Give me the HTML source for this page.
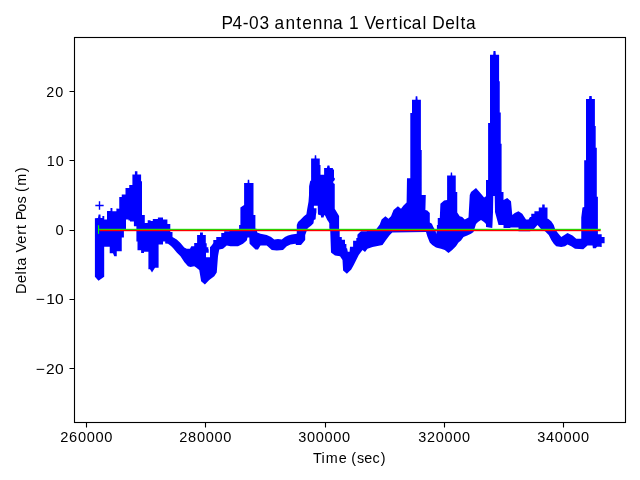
<!DOCTYPE html>
<html><head><meta charset="utf-8"><title>P4-03 antenna 1 Vertical Delta</title>
<style>html,body{margin:0;padding:0;background:#fff;}svg{display:block;will-change:transform;}text{font-family:"Liberation Sans",sans-serif;}</style>
</head><body>
<svg width="640" height="480" viewBox="0 0 640 480">
<rect width="640" height="480" fill="#fff"/>
<polygon points="94.9,218.3 98,218 98.6,214.4 100.5,214.4 100.6,218 102.4,218 102.4,216 104.25,216 104.25,219.4 107,219.4 107,211 110.5,211 110.5,208.1 112.4,208.1 112.4,211.25 116.4,211.25 116.4,208.5 119.25,208.75 119.25,196.9 121.75,196.9 121.75,194.4 125.5,194.4 125.5,188.1 129.25,188.1 129.25,185 132.4,185 132.4,174.4 134.9,174.4 134.9,171.25 137.4,171.25 137.4,174.4 141.1,174.4 141.1,181.25 142,181.25 142,215 144.8,215 144.8,223 147.7,223 147.7,220.3 150.6,220.3 150.6,221 152.8,221 152.8,219 157.9,219 157.9,217.4 163,217.4 163,219.6 167.4,219.6 167.4,224 170.3,224 170.3,232 172.5,232 172.5,237 176.75,239.4 180.5,243.1 184.25,247.5 186.75,248.75 190,248.75 191.25,246.25 194.2,246.25 194.2,242.9 197.1,242.9 197.1,235 200,235 200,232.5 202.9,232.5 202.9,235 205.8,235 205.8,243.3 206.7,243.3 206.7,247.3 208.3,247.3 208.3,249.3 208.7,249.3 208.7,252.7 206,252.7 206,257.3 210,257.3 210,247.3 212,245 213.3,242.9 213.3,240 216.25,240 216.25,237.1 221.25,237.1 221.25,232.9 224.2,232.9 224.2,231.25 229.2,231.25 230.5,230.6 238,230.6 239.1,228.75 239.1,225 240.4,225 240.4,207.5 244.1,205 244.1,183.1 247.6,183.1 247.8,179.8 249.2,179.8 249.4,183.1 253.5,183.1 253.5,215 255.4,215 255.4,228.75 256.6,228.75 257.25,232.5 260.5,233.75 266.75,235 271.1,236.9 274.25,239.4 278,239 281.75,239.4 284.9,236.9 288,235.6 291.75,234.4 296.75,233.75 296.8,225 298,222 301,219.2 303.9,216.25 306.4,214.2 307.25,208.75 308.5,201.7 309,195 309.1,186.25 310.2,181 310.2,180.75 311.1,180.75 311.1,158.6 314.6,158.6 314.8,155.25 316.2,155.25 316.4,158.6 319.75,158.6 319.75,165 320.5,165 320.5,174.75 324.1,174.75 324.1,168 326.9,168 327.5,165.4 329.4,165.4 329.9,168 332.9,168 332.9,169.5 334,169.5 334,177.75 334.75,178 334.75,180 333.3,181.5 333.3,183 334.75,184 334.75,208.75 339.1,216 339.1,229 339.7,229 339.7,236.9 341.8,236.9 341.8,239.7 345,239.7 345,244 346.4,244 346.4,248.2 347.1,248.2 347.8,251.8 349.6,251.8 350,246.8 353.1,246.8 353.1,240.8 356.3,240.8 356.3,238 357.4,238 357.4,234.8 358.8,233.3 361,231.2 366,231.25 371,230.6 376,229.4 379.75,224.4 381.6,219.4 385.4,216.25 388.5,218.75 391,216.25 393.5,210 397.9,206.25 401,208.75 403.5,205.6 406.6,202.5 407,178.3 410.3,178.3 410.3,113 412,113 412,99.8 415.5,99.8 415.7,96.3 417.3,96.3 417.6,99.8 420.9,99.8 420.9,150 421.7,150 421.7,195 425.8,195 425.4,210 427.3,210.4 429.8,212.9 429.8,222.5 431.9,223.75 433.2,226.7 434.4,228.75 435.5,230.5 436.3,234 436.9,229.2 436.9,225 437.75,225 437.75,217.9 439.8,217.9 440.4,203.75 444.1,200.6 447.1,200 447.1,175.6 450.6,175.6 450.8,172.4 452.1,172.4 452.3,175.6 455.75,175.6 455.75,191.9 456.9,191.9 457.25,191.9 457.25,212.5 459.75,216.25 462.25,216.9 464.75,219.4 468.5,217.5 469.75,195 471,191.9 476,188.1 481,193.75 484.1,197.5 486,196.25 486,180 488.1,180 488.1,123.1 490,123.1 490,54.75 493.2,54.75 493.5,51 495.5,51 495.8,54.75 499.1,54.75 499.1,81.25 499.75,81.25 499.75,112.5 500.75,112.5 500.75,143.75 501.6,143.75 501.6,191.9 503.5,191.9 503.5,200 507.25,198.1 511,201.25 512.25,215 514.75,213.1 518.5,211.25 522.25,213.75 526,219.4 528.5,219.4 530,216.9 531.25,216.9 531.25,213.75 534.4,213.75 534.4,211.25 538.75,211.25 538.75,207.5 542.2,207.5 542.2,204.4 544.7,204.4 544.7,207.5 547.5,207.5 547.5,218.75 548.1,218.75 551.25,221.25 553.75,225 555,228.75 557.5,232.5 561.25,236.9 567.5,233.1 572.5,235.6 576.25,238.75 581.25,238.75 581.25,217.5 582.5,207.5 584.2,207 584.2,160.2 586,160.2 586,99.1 589.1,99.1 589.3,95.9 591.7,95.9 591.9,99.1 594.9,99.1 594.9,126 595.7,126 595.7,147.8 596.8,147.8 596.8,196.7 597.9,196.7 597.9,234.2 601.7,234.2 601.7,237.1 604.6,237.1 604.6,242.5 604.6,243.3 601.7,243.3 601.7,247 600.4,247 600.4,246.7 597,246.7 595.8,248.3 592.9,248.3 592.5,245.4 587.5,245.4 583.3,249.2 575,248.75 571.25,246.25 567.5,244.4 565,246.25 561.25,246.9 556.25,246.25 553.75,243.75 551.25,240 548.75,235 545,231.25 541,229 537.5,225 534,229 530,231.25 518.5,231.25 518.5,227.5 511,227.5 509.75,228.1 503.5,228.1 503.5,225 498.5,225 495,212 494.7,196 493.3,196 493,212 492.5,224 492.25,228 486,227 486,224 484,222 481,220 478,222 476,224 473.5,231.9 471,233.75 467.25,235.6 463.5,236.9 461,240.6 458.5,242.5 456,246.25 452.25,250 448.5,253.1 444.75,250 441,248.75 436,247.5 432.25,245 429.75,242.5 427.25,236.25 426,232 392.25,232.5 389.75,235 386,240 382.5,245 380,245.6 372.5,246.9 367.5,248.75 365,251.9 362.5,250 358.75,255 356.25,260 353.75,265 351.25,269.4 346.9,273.75 343.1,270.6 342.5,260 340,256.25 335,255.6 331,252.5 330.2,230 329.3,228.3 329.3,223.3 328.5,221.7 327.25,220 325.2,215.8 324.3,215 323.5,217.5 321,217.5 321,215.5 318,214.6 317.7,205.8 313.9,205.8 313.9,208.3 316.5,208.3 316.4,212.5 316,214.2 315.6,219.2 313.9,220 313.5,223.3 311,225.8 307.7,228.3 305.2,235 305.2,240 301,245 296,245 295.5,243.75 290.5,244.4 286.75,246.25 283,250 276.75,250.6 271.75,250 266.75,245.6 260.5,245.6 258,249.4 255.5,249.4 249.6,243.75 249.3,237.5 247.5,237.5 246.75,240.6 243,243.75 238,246.25 230.5,246.25 226.75,245.6 223,248.75 219.25,249.4 218,256.25 216.75,272.5 214.25,276.25 209.25,280 204.9,284.4 201.1,281.25 199.25,270 196.1,267.5 194.25,266.25 190.5,266.9 188,266.25 184.25,261.9 180.5,256.25 176.75,252.5 173,248.1 171,246 168,243.75 165.2,243.6 165.2,241.5 163,241.5 163,244.4 158.6,244.4 158.6,267.7 155,267.7 152,272.4 150,269.2 148.4,269.2 148.4,251.7 144,251.7 144,253.1 141.1,253.1 141.1,250.2 137.5,250.2 137.5,241.5 136.4,241.5 136.4,226.25 133.9,226.25 133.9,221.6 130,221.6 130,220.6 128.5,220.6 128.5,219.4 126,219.4 126,230 123.9,230 123.9,237.5 121.75,237.5 121.75,251.25 116.75,251.25 116.75,256.25 114.25,256.25 113,253.3 109.7,253.3 109.7,246.7 104.2,246.7 104.2,276.7 98.5,280.8 94.9,276.7" fill="#0000ff"/>
<path d="M95.33 205.5H103.67M99.5 201.33V209.67" stroke="#0000ff" stroke-width="1.39" fill="none"/>
<rect x="98.5" y="228.8" width="502.3" height="1.39" fill="#00ff00"/>
<rect x="97.95" y="225.2" width="1.15" height="8.6" fill="#00ff00"/>
<rect x="99.8" y="229.8" width="500.8" height="1.39" fill="#ff0000"/>
<rect x="74.5" y="37.5" width="551" height="385" fill="none" stroke="#000" stroke-width="1.11"/>
<path d="M86.5 422V427.5 M205.5 422V427.5 M325.5 422V427.5 M444.5 422V427.5 M563.5 422V427.5 M75 91.5H69.5 M75 160.5H69.5 M75 230.5H69.5 M75 299.5H69.5 M75 368.5H69.5" stroke="#000" stroke-width="1.11" fill="none"/>
<g font-family="Liberation Sans, sans-serif" fill="#000"><text transform="translate(222.0,0) scale(0.9883,1)" x="-0.47 10.74 21.00 27.31 37.96 38.96 53.17 64.26 75.20 81.30 91.83 102.46 112.24 113.24 128.53 129.53 144.12 154.79 165.69 172.59 178.75 183.08 191.92 202.90 203.90 212.69 225.87 236.29 241.40 246.82" y="29.0" font-size="17.50">P4-03 antenna 1 Vertical Delta</text><text transform="translate(313.0,0) scale(0.9909,1)" x="-0.14 8.54 12.93 26.04 27.04 38.68 44.40 51.77 60.11 68.42" y="463.0" font-size="14.50">Time (sec)</text><text transform="translate(26.0,294.0) rotate(-90) scale(0.9984,1)" x="0.14 11.04 19.60 23.84 28.38 29.38 41.61 50.35 59.31 65.03 66.03 73.83 82.35 90.74 91.74 102.09 108.44 121.85" y="0" font-size="14.50">Delta Vert Pos (m)</text><text transform="translate(60.0,0) scale(1.0027,1)" x="0.16 9.07 17.92 26.65 35.37 44.10" y="442.0" font-size="14.60">260000</text><text transform="translate(179.0,0) scale(0.9988,1)" x="0.18 9.12 18.01 26.77 35.53 44.29" y="442.0" font-size="14.60">280000</text><text transform="translate(297.9375,0) scale(0.9962,1)" x="0.39 9.15 17.94 26.72 35.50 44.29" y="442.0" font-size="14.60">300000</text><text transform="translate(417.9375,0) scale(0.9904,1)" x="0.42 9.05 18.07 26.90 35.74 44.57" y="442.0" font-size="14.60">320000</text><text transform="translate(536.9375,0) scale(0.9963,1)" x="0.39 9.15 17.94 26.72 35.50 44.28" y="442.0" font-size="14.60">340000</text><text transform="translate(46.0,0) scale(0.9851,1)" x="0.24 9.30" y="97.0" font-size="14.60">20</text><text transform="translate(46.4375,0) scale(0.9814,1)" x="0.37 9.48" y="166.0" font-size="14.60">10</text><text transform="translate(55.125,0) scale(1.0028,1)" x="0.34" y="235.0" font-size="14.60">0</text><text transform="translate(34.53125,0) scale(1.0665,1)" x="1.19 10.90 19.30" y="304.0" font-size="14.60">−10</text><text transform="translate(34.53125,0) scale(1.0675,1)" x="1.18 10.79 19.16" y="374.0" font-size="14.60">−20</text></g>
</svg>
</body></html>
